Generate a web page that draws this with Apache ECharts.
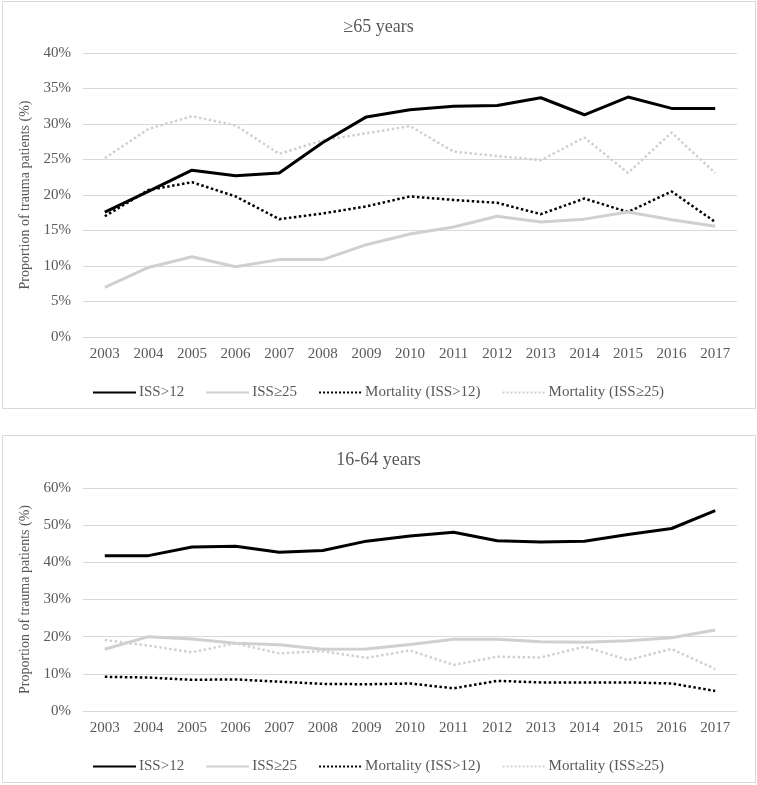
<!DOCTYPE html>
<html>
<head>
<meta charset="utf-8">
<script src="https://cdn.jsdelivr.net/npm/echarts@6/dist/echarts.min.js"></script>
<style>
html,body{margin:0;padding:0;background:#fff;}
#wrap{position:relative;width:757px;height:785px;}
.box{position:absolute;border:1px solid #d9d9d9;box-sizing:border-box;}
#chart{position:absolute;left:0;top:0;width:757px;height:785px;}
</style>
</head>
<body>
<div id="wrap">
<div class="box" style="left:2px;top:1px;width:754px;height:408px;"></div>
<div class="box" style="left:2px;top:435px;width:754px;height:348px;"></div>
<div id="chart"></div>
</div>
<script>
const years = ['2003','2004','2005','2006','2007','2008','2009','2010','2011','2012','2013','2014','2015','2016','2017'];
const seriesNames = ['ISS>12','ISS≥25','Mortality (ISS>12)','Mortality (ISS≥25)'];
const titles = ['≥65 years','16-64 years'];
const yAxisName = 'Proportion of trauma patients (%)';

// ≥65 years
const old_iss12 = [17.6,20.5,23.5,22.7,23.1,27.4,31.0,32.0,32.5,32.6,33.7,31.3,33.8,32.2,32.2];
const old_iss25 = [7.0,9.8,11.3,9.9,10.9,10.9,13.0,14.5,15.5,17.0,16.2,16.6,17.6,16.5,15.6];
const old_mort12 = [17.0,20.7,21.8,19.8,16.6,17.4,18.4,19.8,19.3,18.9,17.3,19.5,17.6,20.5,16.2];
const old_mort25 = [25.2,29.3,31.1,29.8,25.8,27.7,28.7,29.7,26.1,25.5,24.9,28.1,23.1,28.8,23.1];

// 16-64 years
const young_iss12 = [41.8,41.8,44.1,44.3,42.7,43.2,45.7,47.1,48.1,45.8,45.5,45.7,47.5,49.1,53.9];
const young_iss25 = [16.6,20.0,19.4,18.2,17.8,16.6,16.7,17.9,19.3,19.3,18.6,18.5,18.9,19.7,21.8];
const young_mort12 = [9.2,9.0,8.4,8.5,7.9,7.3,7.2,7.4,6.1,8.1,7.7,7.7,7.7,7.4,5.4];
const young_mort25 = [19.1,17.6,15.8,18.2,15.5,16.1,14.3,16.3,12.4,14.6,14.4,17.3,13.7,16.7,11.3];

const FONT = '"Liberation Serif", "Times New Roman", serif';
const GRAY = '#595959';
const GRID = '#d9d9d9';
const LIGHT = '#d0d0d0';

const styles = [
  {color:'#000000', type:'solid', width:3},
  {color:LIGHT, type:'solid', width:3},
  {color:'#000000', type:'dotted', width:2.5},
  {color:LIGHT, type:'dotted', width:2.5}
];

function mkSeries(idx, arrs){
  return arrs.map((d,i)=>({
    name: seriesNames[i], type:'line', data:d,
    xAxisIndex: idx, yAxisIndex: idx,
    symbol:'none', smooth:false,
    lineStyle:{color:styles[i].color, type:styles[i].type, width:styles[i].width},
    itemStyle:{color:styles[i].color},
    z: 10 - i
  }));
}

const chart = echarts.init(document.getElementById('chart'));
const xAxisBase = {
  type:'category', data:years, boundaryGap:true,
  axisLine:{show:false}, axisTick:{show:false},
  axisLabel:{color:GRAY, fontFamily:FONT, fontSize:15, margin:10}
};
const yAxisBase = {
  type:'value', min:0,
  name:yAxisName, nameLocation:'middle', nameRotate:90, nameGap:46,
  nameTextStyle:{color:GRAY, fontFamily:FONT, fontSize:14},
  axisLine:{show:false}, axisTick:{show:false},
  axisLabel:{color:GRAY, fontFamily:FONT, fontSize:15, margin:12, formatter:'{value}%'},
  splitLine:{lineStyle:{color:GRID, width:1}}
};
const legendBase = {
  data: seriesNames, left:87, itemWidth:43, itemHeight:14, itemGap:21,
  itemStyle:{color:'transparent', borderColor:'transparent', borderWidth:0, opacity:0},
  textStyle:{color:GRAY, fontFamily:FONT, fontSize:15, padding:[0,0,0,-2]}
};

chart.setOption({
  animation:false,
  backgroundColor:'transparent',
  title:[
    {text:titles[0], left:'center', top:13, textStyle:{color:GRAY, fontFamily:FONT, fontSize:18, fontWeight:'normal'}},
    {text:titles[1], left:'center', top:446, textStyle:{color:GRAY, fontFamily:FONT, fontSize:18, fontWeight:'normal'}}
  ],
  grid:[
    {left:83, width:654, top:53, height:284},
    {left:83, width:654, top:488, height:223}
  ],
  xAxis:[Object.assign({gridIndex:0}, xAxisBase), Object.assign({gridIndex:1}, xAxisBase)],
  yAxis:[
    Object.assign({gridIndex:0, max:40, interval:5}, yAxisBase),
    Object.assign({gridIndex:1, max:60, interval:10}, yAxisBase)
  ],
  legend:[
    Object.assign({top:380}, legendBase),
    Object.assign({top:754}, legendBase)
  ],
  series: mkSeries(0,[old_iss12,old_iss25,old_mort12,old_mort25])
    .concat(mkSeries(1,[young_iss12,young_iss25,young_mort12,young_mort25]))
});
</script>
</body>
</html>
